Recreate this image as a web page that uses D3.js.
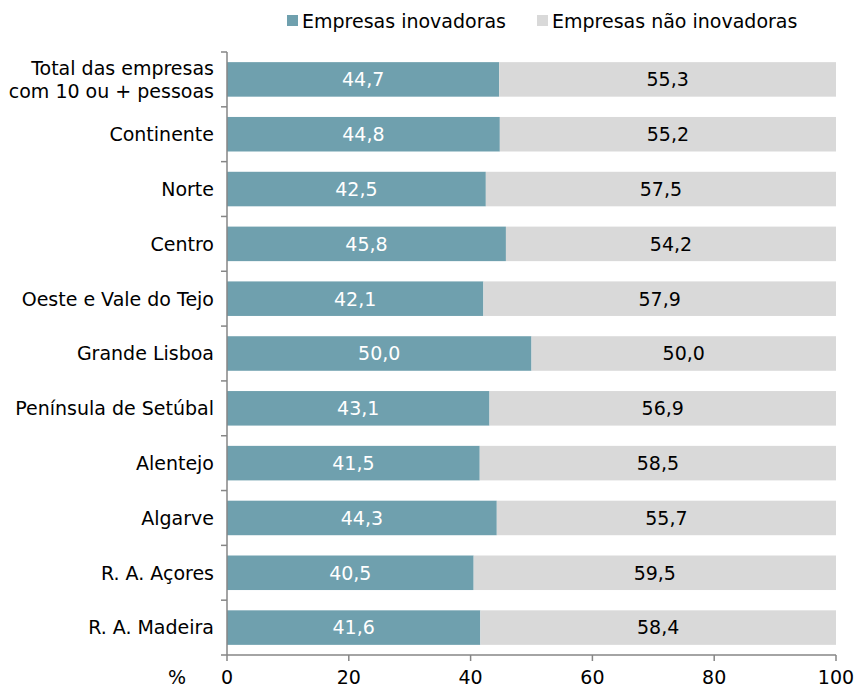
<!DOCTYPE html>
<html>
<head>
<meta charset="utf-8">
<script src="https://cdn.jsdelivr.net/npm/d3@7"></script>
<style>
  body { margin: 0; background: #fff; }
  text { font-family: "DejaVu Sans", sans-serif; font-size: 19px; fill: #000; }
</style>
</head>
<body>
<script>
var categories = ["Total das empresas|com 10 ou + pessoas", "Continente", "Norte", "Centro",
  "Oeste e Vale do Tejo", "Grande Lisboa", "Península de Setúbal", "Alentejo", "Algarve",
  "R. A. Açores", "R. A. Madeira"];
var inovadoras = [44.7, 44.8, 42.5, 45.8, 42.1, 50.0, 43.1, 41.5, 44.3, 40.5, 41.6];
var naoInovadoras = [55.3, 55.2, 57.5, 54.2, 57.9, 50.0, 56.9, 58.5, 55.7, 59.5, 58.4];
var seriesNames = ["Empresas inovadoras", "Empresas não inovadoras"];
var xTicks = [0, 20, 40, 60, 80, 100];

var colors = ["#6fa0ae", "#d9d9d9"];
var labelColors = ["#fff", "#000"];

var width = 857, height = 693,
    margin = {top: 52, right: 21, bottom: 38, left: 227};

var svg = d3.select("body").append("svg")
    .attr("width", width)
    .attr("height", height);

var x = d3.scaleLinear().domain([0, 100]).range([margin.left, width - margin.right]);
var y = d3.scaleBand().domain(d3.range(categories.length))
    .range([margin.top, height - margin.bottom]).paddingInner(0.37).paddingOuter(0.185);

var rows = categories.map(function(c, i) {
  return {cat: c, segs: [
    {s: 0, x0: 0, x1: inovadoras[i]},
    {s: 1, x0: inovadoras[i], x1: inovadoras[i] + naoInovadoras[i]}
  ]};
});

var row = svg.selectAll(".row")
    .data(rows)
  .enter().append("g")
    .attr("transform", function(d, i) { return "translate(0," + y(i) + ")"; });

row.selectAll("rect")
    .data(function(d) { return d.segs; })
  .enter().append("rect")
    .attr("x", function(d) { return x(d.x0); })
    .attr("width", function(d) { return x(d.x1) - x(d.x0); })
    .attr("height", y.bandwidth())
    .attr("fill", function(d) { return colors[d.s]; });

row.selectAll(".val")
    .data(function(d) { return d.segs; })
  .enter().append("text")
    .attr("x", function(d) { return (x(d.x0) + x(d.x1)) / 2; })
    .attr("y", y.bandwidth() / 2)
    .attr("dy", ".36em")
    .attr("text-anchor", "middle")
    .style("fill", function(d) { return labelColors[d.s]; })
    .text(function(d) { return (d.x1 - d.x0).toFixed(1).replace(".", ","); });

// category labels
row.append("text")
    .attr("x", margin.left - 13)
    .attr("y", y.bandwidth() / 2)
    .attr("text-anchor", "end")
    .each(function(d) {
      var lines = d.cat.split("|"), t = d3.select(this);
      lines.forEach(function(l, k) {
        t.append("tspan")
          .attr("x", margin.left - 13)
          .attr("dy", k === 0 ? (0.36 - (lines.length - 1) * 0.6) + "em" : "1.2em")
          .text(l);
      });
    });

// left axis
var axisColor = "#868686";
var yBase = height - margin.bottom;
svg.append("line")
    .attr("x1", margin.left).attr("x2", margin.left)
    .attr("y1", margin.top).attr("y2", yBase)
    .attr("stroke", axisColor).attr("stroke-width", 1.5);
var step = y.step();
svg.selectAll(".ytick")
    .data(d3.range(categories.length + 1))
  .enter().append("line")
    .attr("x1", margin.left - 6).attr("x2", margin.left)
    .attr("y1", function(i) { return margin.top + i * step; })
    .attr("y2", function(i) { return margin.top + i * step; })
    .attr("stroke", axisColor).attr("stroke-width", 1.5);

// bottom axis
svg.append("line")
    .attr("x1", margin.left).attr("x2", x(100))
    .attr("y1", yBase).attr("y2", yBase)
    .attr("stroke", axisColor).attr("stroke-width", 1.5);
svg.selectAll(".xtick")
    .data(xTicks)
  .enter().append("line")
    .attr("x1", x).attr("x2", x)
    .attr("y1", yBase).attr("y2", yBase + 6)
    .attr("stroke", axisColor).attr("stroke-width", 1.5);
svg.selectAll(".xlab")
    .data(xTicks)
  .enter().append("text")
    .attr("x", x)
    .attr("y", yBase + 29)
    .attr("text-anchor", "middle")
    .text(function(d) { return d; });
svg.append("text")
    .attr("x", 177).attr("y", yBase + 29)
    .attr("text-anchor", "middle")
    .text("%");

// legend
var legendX = [287, 537];
var legend = svg.selectAll(".legend")
    .data(seriesNames)
  .enter().append("g")
    .attr("transform", function(d, i) { return "translate(" + legendX[i] + ",15)"; });
legend.append("rect")
    .attr("width", 11).attr("height", 11)
    .attr("fill", function(d, i) { return colors[i]; });
legend.append("text")
    .attr("x", 15).attr("y", 6)
    .attr("dy", ".36em")
    .text(function(d) { return d; });
</script>
</body>
</html>
